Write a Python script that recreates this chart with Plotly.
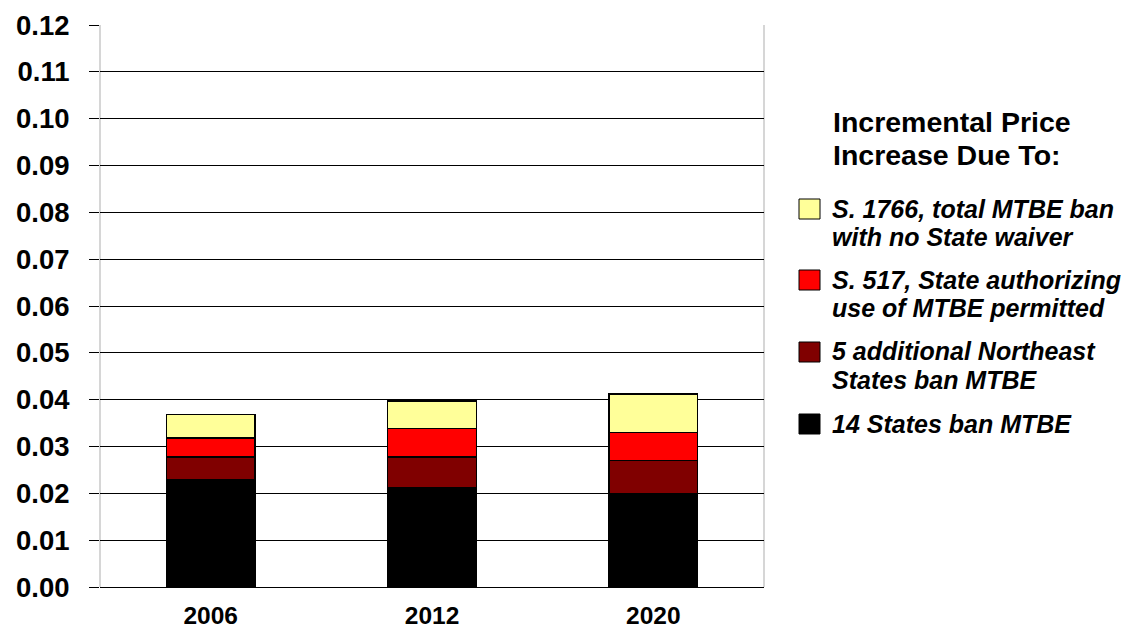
import plotly.graph_objects as go

# Years on the x axis
years = ["2006", "2012", "2020"]

# Incremental price increase ($/gal), stacked bottom to top
ban_14_states = [0.0230, 0.0212, 0.0199]
ban_5_northeast = [0.0048, 0.0066, 0.0071]
s517_state_authorizing = [0.0040, 0.0060, 0.0060]
s1766_total_ban = [0.0050, 0.0059, 0.0082]

# Legend entries, top to bottom (each a list of text lines)
legend_title = ["Incremental Price", "Increase Due To:"]
legend_lines = [
    ["S. 1766, total MTBE ban", "with no State waiver"],
    ["S. 517, State authorizing", "use of MTBE permitted"],
    ["5 additional Northeast", "States ban MTBE"],
    ["14 States ban MTBE"],
]
legend_colors = ["#FFFF99", "#FF0000", "#800000", "#000000"]

y_ticks = [0.00, 0.01, 0.02, 0.03, 0.04, 0.05, 0.06, 0.07, 0.08, 0.09, 0.10, 0.11, 0.12]

FONT = "Liberation Sans, Arial, sans-serif"
W, H = 1143, 630
L, R, T, B = 100, 379, 25, 43

fig = go.Figure()
stack = [
    (ban_14_states, "#000000", legend_lines[3]),
    (ban_5_northeast, "#800000", legend_lines[2]),
    (s517_state_authorizing, "#FF0000", legend_lines[1]),
    (s1766_total_ban, "#FFFF99", legend_lines[0]),
]
for vals, color, name in stack:
    fig.add_trace(go.Bar(
        x=years, y=vals, name=" ".join(name),
        marker=dict(color=color, line=dict(color="#000000", width=1.5)),
        showlegend=False,
    ))

# Manual legend: convert pixel positions to paper coordinates
pw, ph = W - L - R, H - T - B


def px_x(px):
    return (px - L) / pw


def px_y(py):
    return (H - B - py) / ph


annotations = []
for i, line in enumerate(legend_title):
    annotations.append(dict(
        x=px_x(831), y=px_y(122 + 33 * i), xref="paper", yref="paper",
        xanchor="left", yanchor="middle", showarrow=False,
        text="<b>%s</b>" % line,
        font=dict(family=FONT, size=28.5, color="#000000"),
    ))

shapes = []
item_y = [209, 280, 352, 424]
for lines, color, yc in zip(legend_lines, legend_colors, item_y):
    shapes.append(dict(
        type="rect", xref="paper", yref="paper",
        x0=px_x(799), x1=px_x(820), y0=px_y(yc - 10), y1=px_y(yc + 10),
        fillcolor=color, line=dict(color="#000000", width=1),
    ))
    for j, line in enumerate(lines):
        annotations.append(dict(
            x=px_x(830), y=px_y(yc - 0.5 + 28 * j), xref="paper", yref="paper",
            xanchor="left", yanchor="middle", showarrow=False,
            text="<b><i>%s</i></b>" % line,
            font=dict(family=FONT, size=25, color="#000000"),
        ))

# Light gray frame on the left and right sides of the plot area
for xp in (0, 1):
    shapes.append(dict(
        type="line", xref="paper", yref="paper", x0=xp, x1=xp, y0=0, y1=1,
        line=dict(color="#C8C8C8", width=1.5), layer="below",
    ))

fig.update_layout(
    width=W, height=H,
    margin=dict(l=L, r=R, t=T, b=B, pad=0),
    paper_bgcolor="#FFFFFF", plot_bgcolor="#FFFFFF",
    barmode="stack", bargap=0.6,
    showlegend=False,
    annotations=annotations, shapes=shapes,
    font=dict(family=FONT, color="#000000"),
)
fig.update_xaxes(
    automargin=False,
    showgrid=False, showline=False, zeroline=False,
    ticks="", ticklabelstandoff=11,
    tickfont=dict(family=FONT, size=24.5, color="#000000", weight="bold"),
)
fig.update_yaxes(
    automargin=False,
    range=[0, 0.12], tickvals=y_ticks, tickformat=".2f",
    showgrid=True, gridcolor="#000000", gridwidth=1,
    zeroline=True, zerolinecolor="#000000", zerolinewidth=1,
    showline=False,
    ticks="outside", ticklen=10, tickcolor="#000000", tickwidth=1,
    ticklabelstandoff=14,
    tickfont=dict(family=FONT, size=27.5, color="#000000", weight="bold"),
)

fig.write_html("out.html")
